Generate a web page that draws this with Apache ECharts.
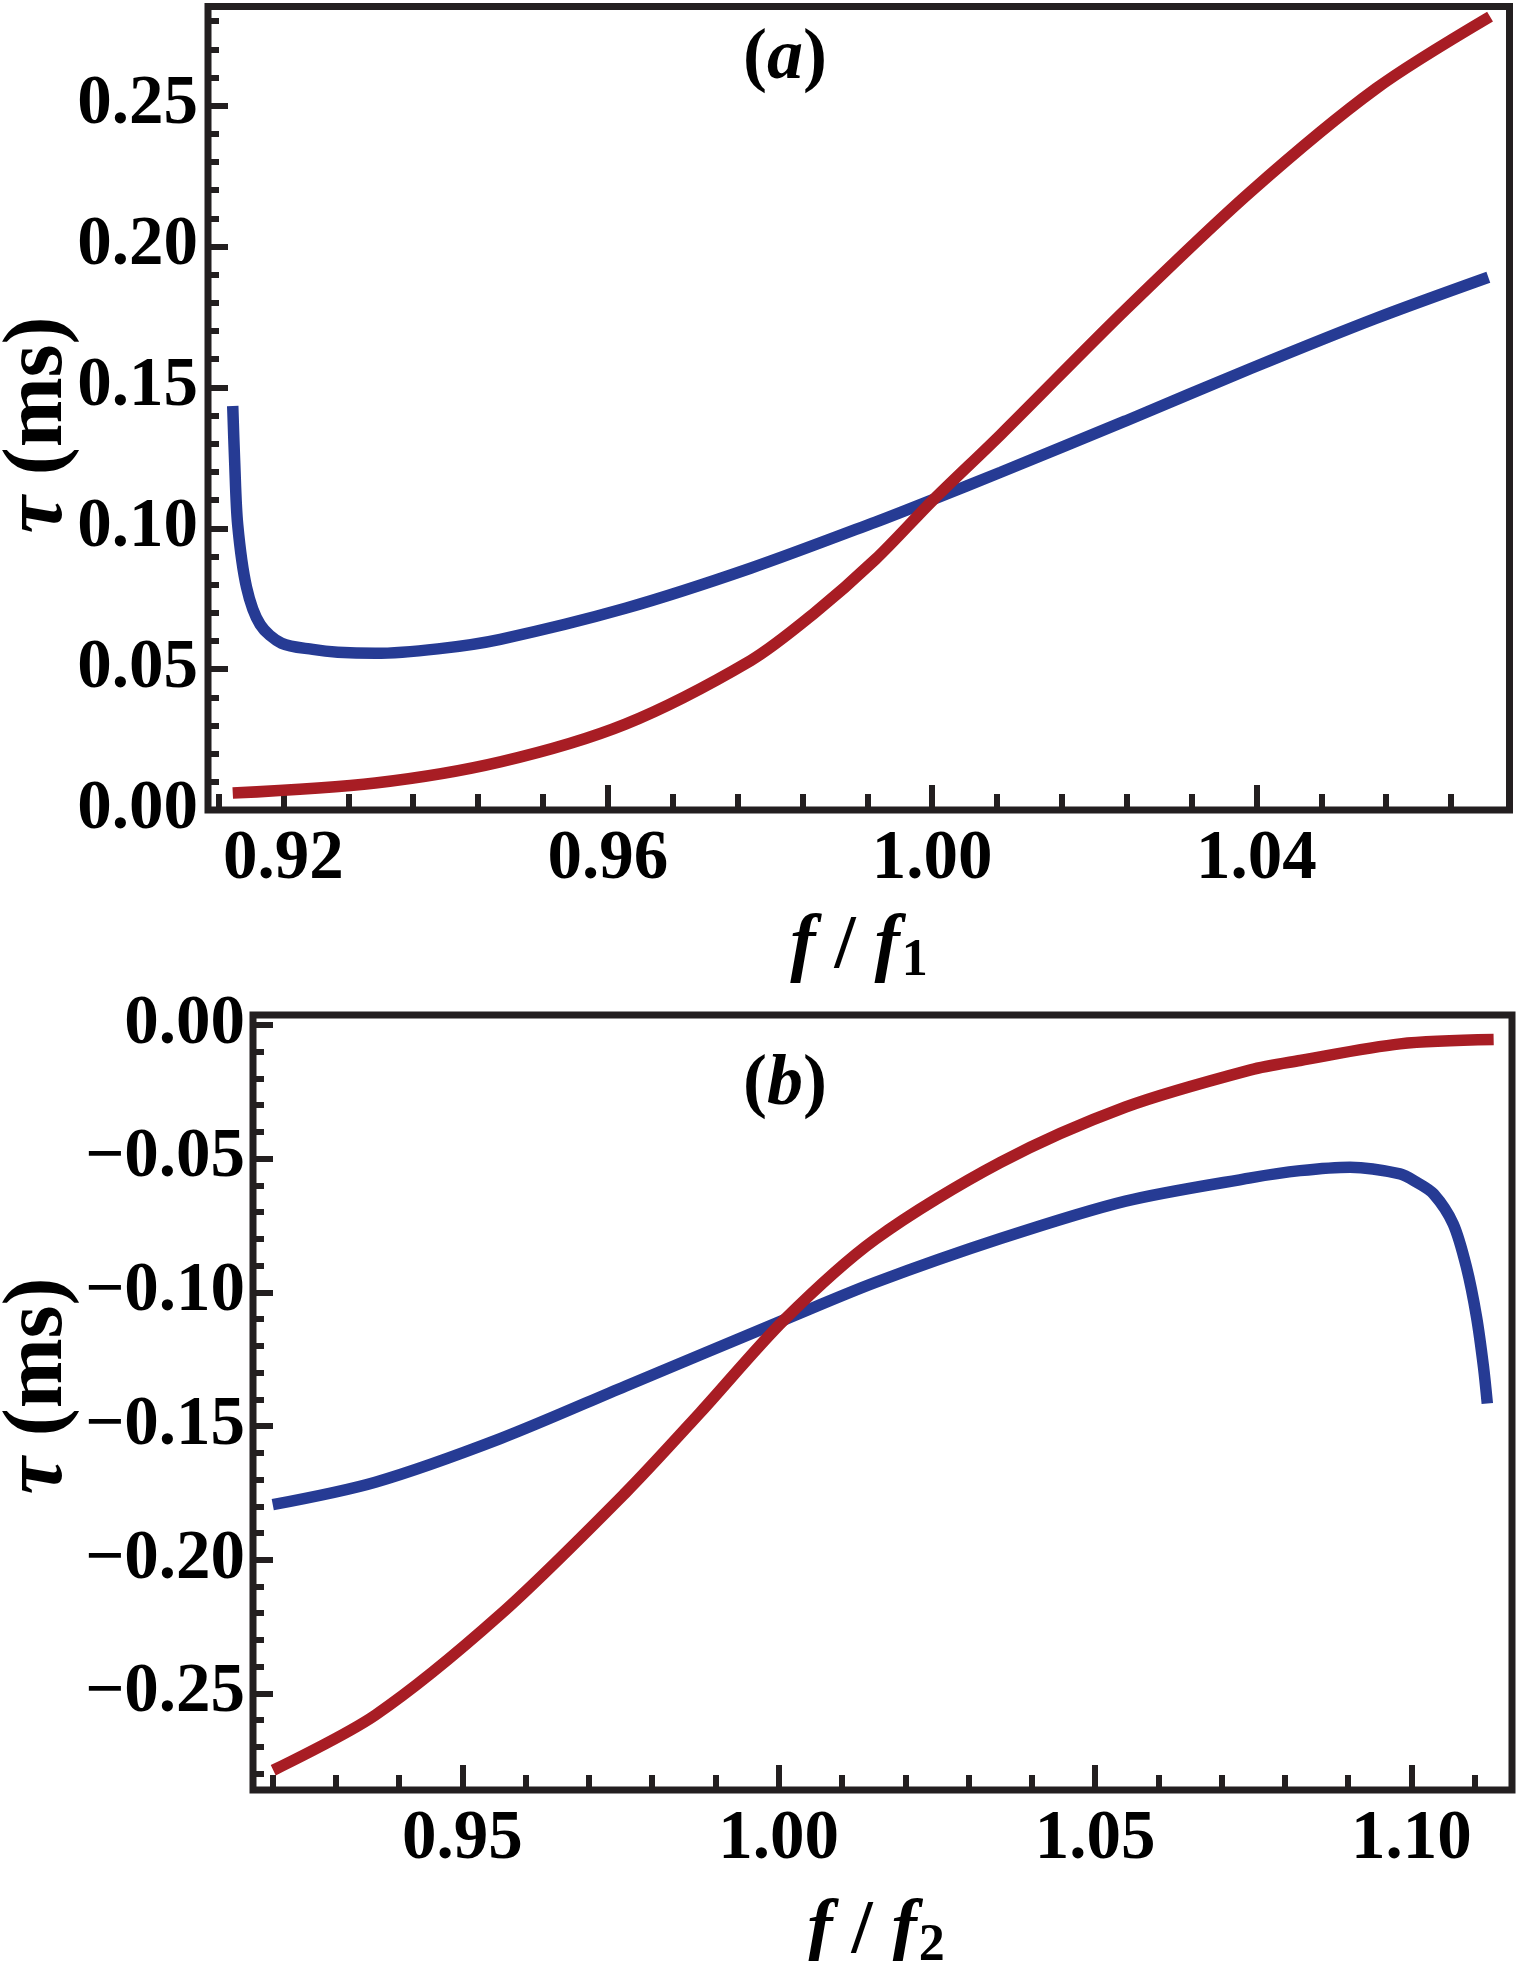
<!DOCTYPE html>
<html>
<head>
<meta charset="utf-8">
<script src="https://cdn.jsdelivr.net/npm/echarts@6/dist/echarts.min.js"></script>
<style>
html,body{margin:0;padding:0;background:#fff;}
#c{width:1522px;height:1961px;}
</style>
</head>
<body>
<div id="c"></div>
<script>
// ---------- Panel (a) data ----------
const a_blue_x = [0.91375,0.91399,0.91436,0.91545,0.91714,0.91977,0.92363,0.92671,0.93133,0.93904,0.94675,0.96218,0.97760,0.99302,1.00011,1.00845,1.02386,1.03929,1.05471,1.06859];
const a_blue_y = [0.1434,0.1235,0.1013,0.0791,0.0658,0.0592,0.0570,0.0560,0.0556,0.0572,0.0606,0.0716,0.0858,0.1022,0.1102,0.1199,0.1381,0.1567,0.1745,0.1891];
const a_red_x  = [0.91375,0.93133,0.94675,0.96218,0.97760,0.98531,0.99302,1.00011,1.00845,1.02386,1.03929,1.05471,1.06880];
const a_red_y  = [0.0060,0.0096,0.0171,0.0305,0.0530,0.0695,0.0890,0.1100,0.1332,0.1776,0.2195,0.2560,0.2816];

// ---------- Panel (b) data ----------
const b_blue_x = [0.92002,0.93623,0.95599,0.97576,1.00086,1.01529,1.03506,1.05482,1.07459,1.0824,1.0903,1.0982,1.1008,1.1035,1.1066,1.1087,1.1103,1.1114,1.1120];
const b_blue_y = [-0.1794,-0.1710,-0.1547,-0.1351,-0.1103,-0.0963,-0.0799,-0.0659,-0.0572,-0.0545,-0.0532,-0.0557,-0.0588,-0.0632,-0.0744,-0.0906,-0.1093,-0.1280,-0.1416];
const b_red_x  = [0.92010,0.93623,0.95599,0.97576,0.98762,1.00086,1.01529,1.03506,1.05482,1.07459,1.0824,1.0982,1.1130];
const b_red_y  = [-0.2787,-0.2581,-0.2205,-0.1750,-0.1449,-0.1103,-0.0801,-0.0514,-0.0307,-0.0168,-0.0133,-0.0071,-0.0055];

// ---------- Axis ranges & ticks ----------
const a_xRange = [0.9107, 1.0712];
const a_yRange = [0.0, 0.2852];
const b_xRange = [0.9169, 1.1159];
const b_yRange = [-0.2861, 0.0037];

const a_xMajor = [0.92, 0.96, 1.00, 1.04];
const a_xMajorLabels = ['0.92', '0.96', '1.00', '1.04'];
const a_xMinor = [0.912, 0.928, 0.936, 0.944, 0.952, 0.968, 0.976, 0.984, 0.992, 1.008, 1.016, 1.024, 1.032, 1.048, 1.056, 1.064];
const a_yMajor = [0.00, 0.05, 0.10, 0.15, 0.20, 0.25];
const a_yMajorLabels = ['0.00', '0.05', '0.10', '0.15', '0.20', '0.25'];
const a_yMinor = [0.01,0.02,0.03,0.04,0.06,0.07,0.08,0.09,0.11,0.12,0.13,0.14,0.16,0.17,0.18,0.19,0.21,0.22,0.23,0.24,0.26,0.27,0.28];

const b_xMajor = [0.95, 1.00, 1.05, 1.10];
const b_xMajorLabels = ['0.95', '1.00', '1.05', '1.10'];
const b_xMinor = [0.92,0.93,0.94,0.96,0.97,0.98,0.99,1.01,1.02,1.03,1.04,1.06,1.07,1.08,1.09,1.11];
const b_yMajor = [0.00, -0.05, -0.10, -0.15, -0.20, -0.25];
const b_yMajorLabels = ['0.00', '\u22120.05', '\u22120.10', '\u22120.15', '\u22120.20', '\u22120.25'];
const b_yMinor = [-0.01,-0.02,-0.03,-0.04,-0.06,-0.07,-0.08,-0.09,-0.11,-0.12,-0.13,-0.14,-0.16,-0.17,-0.18,-0.19,-0.21,-0.22,-0.23,-0.24,-0.26,-0.27,-0.28];

// ---------- Styling ----------
const FONT = "'Liberation Serif','Times New Roman',serif";
const INK = '#231f20';
const RED = '#a81d24';
const BLUE = '#263b94';
const LW = 11.5;

function pairs(xs, ys) { return xs.map((x, i) => [x, ys[i]]); }
function labelFor(vals, labels) {
  return function (v) {
    for (let i = 0; i < vals.length; i++) if (Math.abs(vals[i] - v) < 1e-9) return labels[i];
    return '';
  };
}

function majorAxis(gridIndex, pos, range, vals, labels, len, margin) {
  return {
    type: 'value', gridIndex, position: pos, offset: 0, min: range[0], max: range[1],
    axisLine: { show: false, onZero: false }, splitLine: { show: false },
    axisTick: { show: true, inside: true, length: len, customValues: vals, lineStyle: { color: INK, width: 6 } },
    axisLabel: { show: true, customValues: vals, formatter: labelFor(vals, labels), margin: margin,
      fontFamily: FONT, fontWeight: 'bold', fontSize: 69, color: '#000' }
  };
}
function minorAxis(gridIndex, pos, range, vals, len) {
  return {
    type: 'value', gridIndex, position: pos, offset: 0, min: range[0], max: range[1],
    axisLine: { show: false, onZero: false }, splitLine: { show: false },
    axisTick: { show: true, inside: true, length: len, customValues: vals, lineStyle: { color: INK, width: 6 } },
    axisLabel: { show: false }
  };
}

const chart = echarts.init(document.getElementById('c'), null, { renderer: 'canvas' });

const sub = () => ({
  i: { fontFamily: FONT, fontWeight: 'bold', fontStyle: 'italic', fontSize: 76, fill: '#000' },
  p: { fontFamily: FONT, fontWeight: 'bold', fontSize: 76, fill: '#000' },
  s: { fontFamily: FONT, fontWeight: 'bold', fontSize: 52, fill: '#000', padding: [30, 0, 0, 2] }
});
const tag = {
  p: { fontFamily: FONT, fontWeight: 'bold', fontSize: 72, fill: '#000' },
  i: { fontFamily: FONT, fontWeight: 'bold', fontStyle: 'italic', fontSize: 72, fill: '#000' }
};
const ytitle = {
  i: { fontFamily: FONT, fontWeight: 'bold', fontStyle: 'italic', fontSize: 84, fill: '#000' },
  p: { fontFamily: FONT, fontWeight: 'bold', fontSize: 84, fill: '#000' }
};

const option = {
  animation: false,
  backgroundColor: '#fff',
  grid: [
    { left: 208, top: 6.5, width: 1301.5, height: 803.5, show: true, borderColor: INK, borderWidth: 7, backgroundColor: 'transparent' },
    { left: 253, top: 1015, width: 1259, height: 775, show: true, borderColor: INK, borderWidth: 7, backgroundColor: 'transparent' }
  ],
  xAxis: [
    majorAxis(0, 'bottom', a_xRange, a_xMajor, a_xMajorLabels, 25, 16),
    minorAxis(0, 'bottom', a_xRange, a_xMinor, 16),
    majorAxis(1, 'bottom', b_xRange, b_xMajor, b_xMajorLabels, 25, 16),
    minorAxis(1, 'bottom', b_xRange, b_xMinor, 15)
  ],
  yAxis: [
    majorAxis(0, 'left', a_yRange, a_yMajor, a_yMajorLabels, 20, 10),
    minorAxis(0, 'left', a_yRange, a_yMinor, 11),
    majorAxis(1, 'left', b_yRange, b_yMajor, b_yMajorLabels, 20, 8),
    minorAxis(1, 'left', b_yRange, b_yMinor, 11)
  ],
  series: [
    { type: 'line', xAxisIndex: 0, yAxisIndex: 0, data: pairs(a_blue_x, a_blue_y), showSymbol: false, smooth: 0.3, lineStyle: { color: BLUE, width: LW, cap: 'butt' } },
    { type: 'line', xAxisIndex: 0, yAxisIndex: 0, data: pairs(a_red_x, a_red_y), showSymbol: false, smooth: 0.3, lineStyle: { color: RED, width: LW, cap: 'butt' } },
    { type: 'line', xAxisIndex: 2, yAxisIndex: 2, data: pairs(b_blue_x, b_blue_y), showSymbol: false, smooth: 0.3, lineStyle: { color: BLUE, width: LW, cap: 'butt' } },
    { type: 'line', xAxisIndex: 2, yAxisIndex: 2, data: pairs(b_red_x, b_red_y), showSymbol: false, smooth: 0.3, lineStyle: { color: RED, width: LW, cap: 'butt' } }
  ],
  graphic: [
    { type: 'text', x: 785, y: 59, style: { text: '{p|(}{i|a}{p|)}', align: 'center', verticalAlign: 'middle', rich: tag } },
    { type: 'text', x: 785, y: 1085, style: { text: '{p|(}{i|b}{p|)}', align: 'center', verticalAlign: 'middle', rich: tag } },
    { type: 'text', x: 859, y: 947, style: { text: '{i|f}{p| / }{i|f}{s|1}', align: 'center', verticalAlign: 'middle', rich: sub() } },
    { type: 'text', x: 876, y: 1932, style: { text: '{i|f}{p| / }{i|f}{s|2}', align: 'center', verticalAlign: 'middle', rich: sub() } },
    { type: 'text', x: 39, y: 425, rotation: Math.PI / 2, style: { text: '{i|\u03c4}{p| (ms)}', align: 'center', verticalAlign: 'middle', rich: ytitle } },
    { type: 'text', x: 39, y: 1386, rotation: Math.PI / 2, style: { text: '{i|\u03c4}{p| (ms)}', align: 'center', verticalAlign: 'middle', rich: ytitle } }
  ]
};
chart.setOption(option);
</script>
</body>
</html>
